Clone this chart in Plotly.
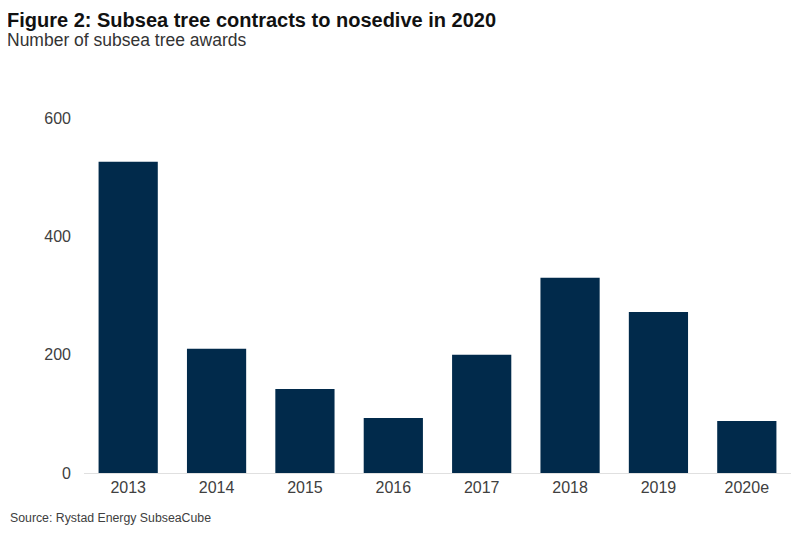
import plotly.graph_objects as go

years = ["2013", "2014", "2015", "2016", "2017", "2018", "2019", "2020e"]
awards = [526, 210, 142, 93, 200, 330, 272, 88]
y_ticks = [0, 200, 400, 600]

# page is drawn 8px in from the window edge, margins below allow for that
L, R, T, B = 76, 17, 110, 71
PW, PH = 800 - L - R, 536 - T - B

fig = go.Figure(
    go.Bar(x=years, y=awards, marker_color="#012a4b", marker_line_width=0)
)

fig.update_layout(
    width=800,
    height=536,
    paper_bgcolor="white",
    plot_bgcolor="white",
    font=dict(family="Liberation Sans, Arial, sans-serif", color="#404040", size=16),
    margin=dict(l=L, r=R, t=T, b=B),
    bargap=0.33,
    showlegend=False,
)

fig.update_xaxes(
    showgrid=False,
    showline=True,
    linecolor="#e0e0e0",
    linewidth=1,
    ticks="",
    tickfont=dict(size=16, color="#404040"),
)
fig.update_yaxes(
    range=[0, 600],
    tickvals=y_ticks,
    showgrid=False,
    zeroline=False,
    showline=False,
    ticks="",
    ticklabelstandoff=12,
    tickfont=dict(size=16, color="#404040"),
)

fig.add_annotation(
    text="<b>Figure 2: Subsea tree contracts to nosedive in 2020</b>",
    xref="paper", yref="paper", x=-L / PW, y=1 + T / PH,
    xanchor="left", yanchor="top", xshift=-2, borderpad=0,
    font=dict(size=20, color="#111111"),
    showarrow=False,
)
fig.add_annotation(
    text="Number of subsea tree awards",
    xref="paper", yref="paper", x=-L / PW, y=1 + (T - 21) / PH,
    xanchor="left", yanchor="top", xshift=-2, borderpad=0,
    font=dict(size=17.5, color="#333333"),
    showarrow=False,
)
fig.add_annotation(
    text="Source: Rystad Energy SubseaCube",
    xref="paper", yref="paper", x=-L / PW, y=-36 / PH,
    xanchor="left", yanchor="top",
    font=dict(size=12.3, color="#404040"),
    showarrow=False,
)

fig.write_html("out.html")
